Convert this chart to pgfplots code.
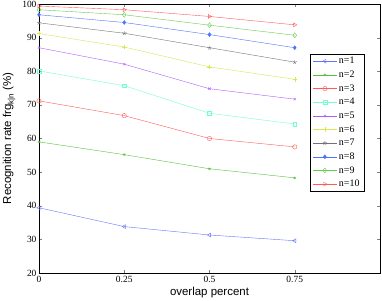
\documentclass[border=0pt]{standalone}
\usepackage{fontspec}
\setmainfont{Liberation Serif}
\setsansfont{Liberation Sans}
\usepackage{pgfplots}
\pgfplotsset{compat=1.18}
\definecolor{c1}{rgb}{0.4,0.45,1}
\definecolor{c2}{rgb}{0.35,0.75,0.25}
\definecolor{c3}{rgb}{1,0.35,0.35}
\definecolor{c4}{rgb}{0.45,1,0.8}
\definecolor{c5}{rgb}{0.7,0.35,1}
\definecolor{c6}{rgb}{0.85,0.9,0.3}
\definecolor{c7}{rgb}{0.45,0.45,0.45}
\definecolor{c8}{rgb}{0.3,0.45,1}
\definecolor{c9}{rgb}{0.4,0.8,0.3}
\definecolor{c10}{rgb}{1,0.35,0.35}
\begin{document}
\begin{tikzpicture}
\begin{axis}[
  scale only axis,
  width=341bp, height=269bp,
  xmin=0, xmax=1, ymin=20, ymax=100,
  xtick={0,0.25,0.5,0.75},
  xticklabels={0,0.25,0.5,0.75},
  ytick={20,30,...,100},
  tick align=inside,
  tick pos=both,
  major tick length=3.5pt,
  /pgf/number format/assume math mode=true,
  ticklabel style={font=\fontsize{9.5}{10}\selectfont},
  yticklabel style={xshift=1pt},
  xlabel={\sffamily overlap percent},
  ylabel={\sffamily Recognition rate frg\raisebox{-0.4ex}{\fontsize{8}{8}\selectfont k|n} (\%)},
  label style={font=\fontsize{11.5}{12}\selectfont},
  xlabel style={at={(axis description cs:0.5,-0.072)}, anchor=center},
  ylabel style={at={(axis description cs:-0.088,0.5)}, anchor=center},
  legend style={at={(0.795,0.814)}, anchor=north west, font=\fontsize{10}{11}\selectfont, draw=black, inner xsep=2.5pt, inner ysep=1pt, row sep=1.6pt},
  legend cell align=left,
  legend image code/.code={\draw[#1] (0cm,0cm) -- (0.42cm,0cm) plot coordinates {(0.42cm,0cm)} -- (0.84cm,0cm);},
  every axis plot/.append style={thin, mark size=2.2pt},
]
\addplot[c1, mark=triangle, mark options={rotate=90}] coordinates {(0,39.4) (0.25,33.8) (0.5,31.3) (0.75,29.6)};
\addlegendentry{n=1}
\addplot[c2, mark=asterisk, mark size=1.5pt] coordinates {(0,59.0) (0.25,55.2) (0.5,51.0) (0.75,48.3)};
\addlegendentry{n=2}
\addplot[c3, mark=o] coordinates {(0,71.2) (0.25,66.8) (0.5,60.0) (0.75,57.5)};
\addlegendentry{n=3}
\addplot[c4, mark=square, mark size=1.9pt] coordinates {(0,80.1) (0.25,75.7) (0.5,67.5) (0.75,64.3)};
\addlegendentry{n=4}
\addplot[c5, mark=x, mark size=1.6pt] coordinates {(0,87.0) (0.25,82.1) (0.5,74.8) (0.75,71.7)};
\addlegendentry{n=5}
\addplot[c6, mark=+] coordinates {(0,91.2) (0.25,87.2) (0.5,81.3) (0.75,77.6)};
\addlegendentry{n=6}
\addplot[c7, mark=star] coordinates {(0,94.4) (0.25,91.3) (0.5,87.0) (0.75,82.7)};
\addlegendentry{n=7}
\addplot[c8, mark=diamond*, mark size=2pt] coordinates {(0,96.8) (0.25,94.5) (0.5,90.9) (0.75,87.0)};
\addlegendentry{n=8}
\addplot[c9, mark=diamond, mark size=2.5pt] coordinates {(0,98.3) (0.25,96.8) (0.5,93.7) (0.75,90.7)};
\addlegendentry{n=9}
\addplot[c10, mark=triangle, mark options={rotate=-90}] coordinates {(0,99.4) (0.25,98.3) (0.5,96.3) (0.75,93.8)};
\addlegendentry{n=10}
\coordinate (sw) at (rel axis cs:0,0);
\coordinate (ne) at (rel axis cs:1,1);
\end{axis}
\pgfresetboundingbox
\path[use as bounding box] ([xshift=-39bp,yshift=-28bp]sw) rectangle ([xshift=2bp,yshift=4bp]ne);
\end{tikzpicture}
\end{document}
